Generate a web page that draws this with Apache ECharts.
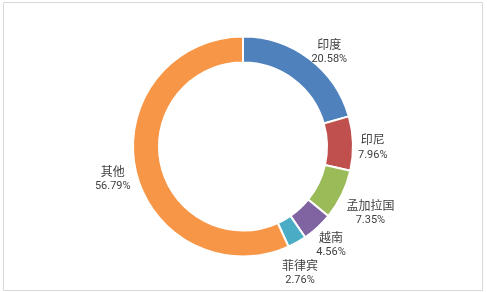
<!DOCTYPE html>
<html>
<head>
<meta charset="utf-8">
<script src="https://cdn.jsdelivr.net/npm/echarts@6/dist/echarts.min.js"></script>
<style>
html,body{margin:0;padding:0;background:#fff;}
#main{width:487px;height:292px;}
</style>
</head>
<body>
<div id="main"></div>
<script>
const categories = ['印度', '印尼', '孟加拉国', '越南', '菲律宾', '其他'];
const shares = [20.58, 7.96, 7.35, 4.56, 2.76, 56.79];
const colors = ['#4f81bd', '#c0504d', '#9bbb59', '#8064a2', '#4bacc6', '#f79646'];
// small label nudges (px) to mimic the original's label placement
const labelNudge = [[7, 5.5], [0, 0], [0, 0], [-2, -4], [-7, 8.5], [0, 0]];

const pieData = categories.map((name, i) => ({ name: name, value: shares[i] }));

const CX = 243, CY = 146.5, R_IN = 84, R_OUT = 110, LABEL_GAP = 5, LABEL_DY = 4.5;
const total = shares.reduce((a, b) => a + b, 0);

const chart = echarts.init(document.getElementById('main'), null, { renderer: 'canvas' });
chart.setOption({
  animation: false,
  color: colors,
  graphic: [{
    type: 'rect',
    shape: { x: 3.5, y: 2.5, width: 479, height: 288 },
    style: { fill: 'none', stroke: '#d9d9d9', lineWidth: 1 },
    silent: true
  }],
  series: [
    {
      type: 'pie',
      center: [CX, CY],
      radius: [R_IN, R_OUT],
      startAngle: 90,
      clockwise: true,
      avoidLabelOverlap: false,
      itemStyle: { borderColor: '#ffffff', borderWidth: 2 },
      labelLine: { show: false },
      emphasis: { disabled: true },
      label: {
        show: true,
        position: 'outside',
        formatter: function (p) { return '{n|' + p.name + '}\n{v|' + p.value.toFixed(2) + '%}'; },
        rich: {
          n: { fontFamily: "'Noto Sans CJK SC', 'Noto Sans', sans-serif", fontSize: 12, color: '#404040', lineHeight: 15, align: 'center' },
          v: { fontFamily: "Roboto, 'Noto Sans', sans-serif", fontSize: 11, color: '#404040', lineHeight: 15, align: 'center' }
        }
      },
      labelLayout: function (params) {
        const i = params.dataIndex;
        let cum = 0;
        for (let k = 0; k < i; k++) cum += shares[k];
        const mid = (cum + shares[i] / 2) / total * Math.PI * 2;
        const ux = Math.sin(mid), uy = -Math.cos(mid);
        const w = params.labelRect.width / 2, h = params.labelRect.height / 2;
        const ex = Math.abs(ux) > 1e-6 ? w / Math.abs(ux) : Infinity;
        const ey = Math.abs(uy) > 1e-6 ? h / Math.abs(uy) : Infinity;
        const d = R_OUT + LABEL_GAP + Math.min(ex, ey);
        return {
          x: CX + ux * d + labelNudge[i][0],
          y: CY + uy * d + LABEL_DY + labelNudge[i][1],
          align: 'center', verticalAlign: 'middle'
        };
      },
      data: pieData
    }
  ]
});
</script>
</body>
</html>
